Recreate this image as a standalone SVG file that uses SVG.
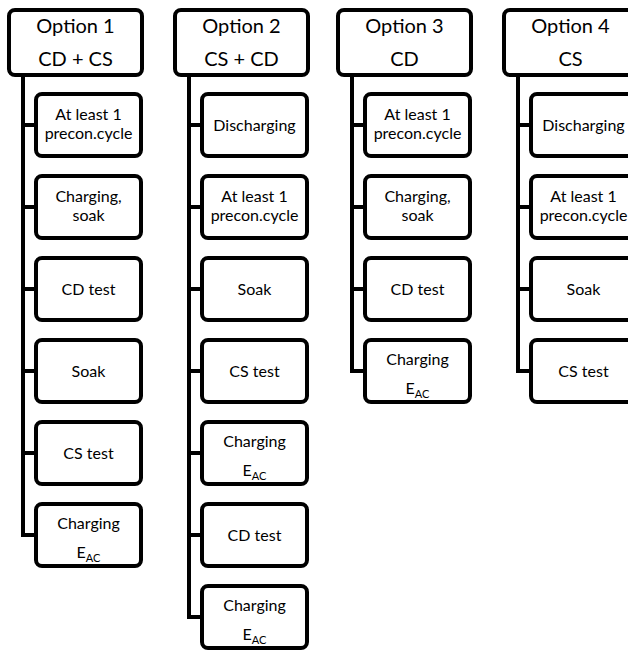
<svg xmlns="http://www.w3.org/2000/svg" width="628" height="651" viewBox="0 0 628 651">
<style>
.box{fill:#fff;stroke:#000;stroke-width:4}
.hd{font-family:Lato,"Liberation Sans",sans-serif;font-size:20px;text-anchor:middle;fill:#000}
.t{font-family:Lato,"Liberation Sans",sans-serif;font-size:16px;text-anchor:middle;fill:#000}
.sub{font-size:11px}
.c{fill:none;stroke:#000;stroke-width:4;stroke-linejoin:miter}
</style>
<rect width="628" height="651" fill="#fff"/>
<g id="connectors">
<path class="c" d="M23,75V535H36M23,125H36M23,207H36M23,289H36M23,371H36M23,453H36"/>
<path class="c" d="M189,75V617H202M189,125H202M189,207H202M189,289H202M189,371H202M189,453H202M189,535H202"/>
<path class="c" d="M352,75V371H365M352,125H365M352,207H365M352,289H365"/>
<path class="c" d="M518,75V371H531M518,125H531M518,207H531M518,289H531"/>
</g>
<!-- Column 1 -->
<g id="opt1"><rect class="box" x="9" y="10" width="133" height="65" rx="6"/><text class="hd" x="75.5" y="33">Option 1</text><text class="hd" x="75.5" y="66">CD + CS</text></g>
<g id="o1n1"><rect class="box" x="36" y="94" width="105" height="62" rx="6"/><text class="t" x="88.5" y="119.5">At least 1</text><text class="t" x="88.5" y="139">precon.cycle</text></g>
<g id="o1n2"><rect class="box" x="36" y="176" width="105" height="62" rx="6"/><text class="t" x="88.5" y="201.5">Charging,</text><text class="t" x="88.5" y="221">soak</text></g>
<g id="o1n3"><rect class="box" x="36" y="258" width="105" height="62" rx="6"/><text class="t" x="88.5" y="294.5">CD test</text></g>
<g id="o1n4"><rect class="box" x="36" y="340" width="105" height="62" rx="6"/><text class="t" x="88.5" y="376.5">Soak</text></g>
<g id="o1n5"><rect class="box" x="36" y="422" width="105" height="62" rx="6"/><text class="t" x="88.5" y="458.5">CS test</text></g>
<g id="o1n6"><rect class="box" x="36" y="504" width="105" height="62" rx="6"/><text class="t" x="88.5" y="529">Charging</text><text class="t" x="88.5" y="558">E<tspan class="sub" dy="4">AC</tspan></text></g>
<!-- Column 2 -->
<g id="opt2"><rect class="box" x="175" y="10" width="133" height="65" rx="6"/><text class="hd" x="241.5" y="33">Option 2</text><text class="hd" x="241.5" y="66">CS + CD</text></g>
<g id="o2n1"><rect class="box" x="202" y="94" width="105" height="62" rx="6"/><text class="t" x="254.5" y="130.5">Discharging</text></g>
<g id="o2n2"><rect class="box" x="202" y="176" width="105" height="62" rx="6"/><text class="t" x="254.5" y="201.5">At least 1</text><text class="t" x="254.5" y="221">precon.cycle</text></g>
<g id="o2n3"><rect class="box" x="202" y="258" width="105" height="62" rx="6"/><text class="t" x="254.5" y="294.5">Soak</text></g>
<g id="o2n4"><rect class="box" x="202" y="340" width="105" height="62" rx="6"/><text class="t" x="254.5" y="376.5">CS test</text></g>
<g id="o2n5"><rect class="box" x="202" y="422" width="105" height="62" rx="6"/><text class="t" x="254.5" y="447">Charging</text><text class="t" x="254.5" y="476">E<tspan class="sub" dy="4">AC</tspan></text></g>
<g id="o2n6"><rect class="box" x="202" y="504" width="105" height="62" rx="6"/><text class="t" x="254.5" y="540.5">CD test</text></g>
<g id="o2n7"><rect class="box" x="202" y="586" width="105" height="62" rx="6"/><text class="t" x="254.5" y="611">Charging</text><text class="t" x="254.5" y="640">E<tspan class="sub" dy="4">AC</tspan></text></g>
<!-- Column 3 -->
<g id="opt3"><rect class="box" x="338" y="10" width="133" height="65" rx="6"/><text class="hd" x="404.5" y="33">Option 3</text><text class="hd" x="404.5" y="66">CD</text></g>
<g id="o3n1"><rect class="box" x="365" y="94" width="105" height="62" rx="6"/><text class="t" x="417.5" y="119.5">At least 1</text><text class="t" x="417.5" y="139">precon.cycle</text></g>
<g id="o3n2"><rect class="box" x="365" y="176" width="105" height="62" rx="6"/><text class="t" x="417.5" y="201.5">Charging,</text><text class="t" x="417.5" y="221">soak</text></g>
<g id="o3n3"><rect class="box" x="365" y="258" width="105" height="62" rx="6"/><text class="t" x="417.5" y="294.5">CD test</text></g>
<g id="o3n4"><rect class="box" x="365" y="340" width="105" height="62" rx="6"/><text class="t" x="417.5" y="365">Charging</text><text class="t" x="417.5" y="394">E<tspan class="sub" dy="4">AC</tspan></text></g>
<!-- Column 4 -->
<g id="opt4"><rect class="box" x="504" y="10" width="133" height="65" rx="6"/><text class="hd" x="570.5" y="33">Option 4</text><text class="hd" x="570.5" y="66">CS</text></g>
<g id="o4n1"><rect class="box" x="531" y="94" width="105" height="62" rx="6"/><text class="t" x="583.5" y="130.5">Discharging</text></g>
<g id="o4n2"><rect class="box" x="531" y="176" width="105" height="62" rx="6"/><text class="t" x="583.5" y="201.5">At least 1</text><text class="t" x="583.5" y="221">precon.cycle</text></g>
<g id="o4n3"><rect class="box" x="531" y="258" width="105" height="62" rx="6"/><text class="t" x="583.5" y="294.5">Soak</text></g>
<g id="o4n4"><rect class="box" x="531" y="340" width="105" height="62" rx="6"/><text class="t" x="583.5" y="376.5">CS test</text></g>
</svg>
